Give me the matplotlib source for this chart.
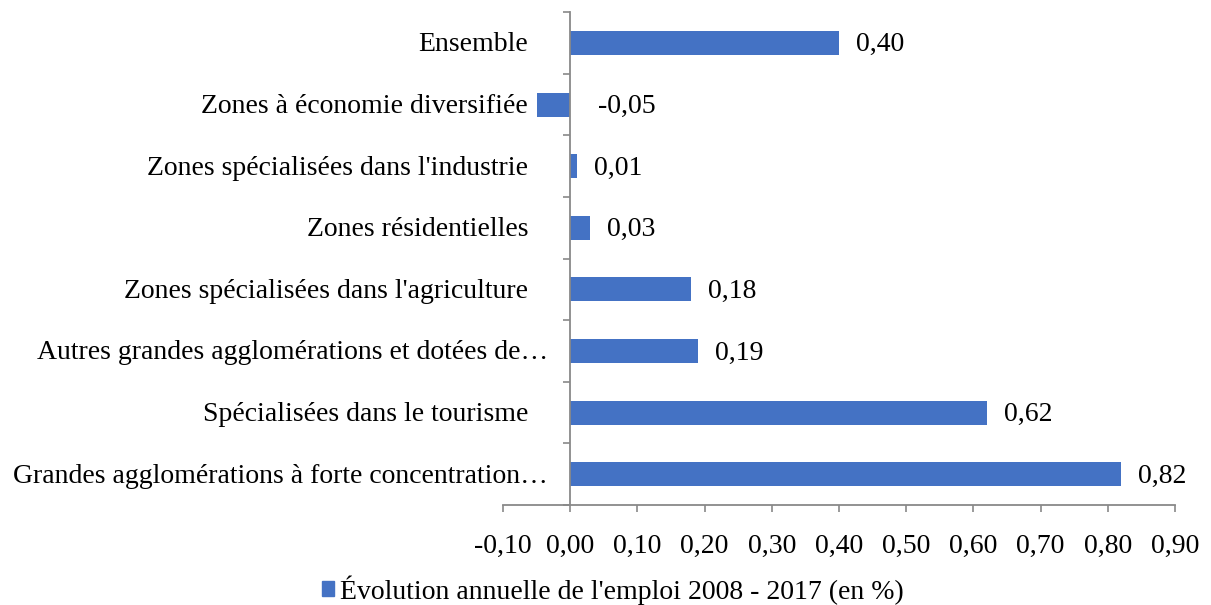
import matplotlib
matplotlib.use("Agg")
import matplotlib.pyplot as plt
from matplotlib.ticker import FixedLocator, FuncFormatter
from matplotlib.patches import Patch

categories = ["Grandes agglomérations à forte concentration…",
              "Spécialisées dans le tourisme",
              "Autres grandes agglomérations et dotées de…",
              "Zones spécialisées dans l'agriculture",
              "Zones résidentielles",
              "Zones spécialisées dans l'industrie",
              "Zones à économie diversifiée",
              "Ensemble"]
values = [0.82, 0.62, 0.19, 0.18, 0.03, 0.01, -0.05, 0.40]
series_name = "Évolution annuelle de l'emploi 2008 - 2017 (en %)"
xticks = [-0.1, 0.0, 0.1, 0.2, 0.3, 0.4, 0.5, 0.6, 0.7, 0.8, 0.9]

plt.rcParams['font.family'] = ['Liberation Serif', 'DejaVu Serif']
fs = 20
plt.rcParams['font.size'] = fs

blue = '#4472C4'
grey = '#898989'

fig = plt.figure(figsize=(12.11, 6.05), dpi=100)
ax = fig.add_axes([0.4154, 0.1653, 0.9703 - 0.4154, 0.980 - 0.1653])

ypos = list(range(len(categories)))
ax.barh(ypos, values, height=0.39, color=blue, zorder=2)

# valeurs
for y, v in zip(ypos, values):
    off = 17 if v >= 0 else 28
    ax.annotate(f"{v:.2f}".replace('.', ','), xy=(max(v, 0), y), xytext=(off, -2),
                textcoords='offset pixels', va='center', ha='left', fontsize=fs)

# libellés des catégories (les tronqués sont plus proches de l'axe, comme dans Excel)
for y, c in zip(ypos, categories):
    off = -22 if c.endswith('…') else -42
    ax.annotate(c, xy=(0, y), xytext=(off, -2), textcoords='offset pixels',
                va='center', ha='right', fontsize=fs, annotation_clip=False)

ax.set_xlim(-0.1, 0.9)
ax.set_ylim(-0.5, len(categories) - 0.5)
ax.set_xticks(xticks)
ax.xaxis.set_major_formatter(FuncFormatter(lambda x, p: f"{x:.2f}".replace('.', ',')))
ax.tick_params(axis='x', direction='out', length=5, width=1.2, color=grey, pad=16)

ax.spines['left'].set_position(('data', 0))
ax.yaxis.set_major_locator(FixedLocator([i - 0.5 for i in range(len(categories) + 1)]))
ax.yaxis.set_major_formatter(plt.NullFormatter())
ax.tick_params(axis='y', which='major', direction='out', length=5, width=1.2, color=grey)

for s in ['top', 'right']:
    ax.spines[s].set_visible(False)
for s in ['left', 'bottom']:
    ax.spines[s].set_color(grey)
    ax.spines[s].set_linewidth(1.3)

fig.legend(handles=[Patch(color=blue, label=series_name)], loc='center',
           bbox_to_anchor=(0.506, 0.025), frameon=False, handlelength=0.45,
           handleheight=0.45, handletextpad=0.2, fontsize=fs)

fig.savefig("out.png", dpi=100)
